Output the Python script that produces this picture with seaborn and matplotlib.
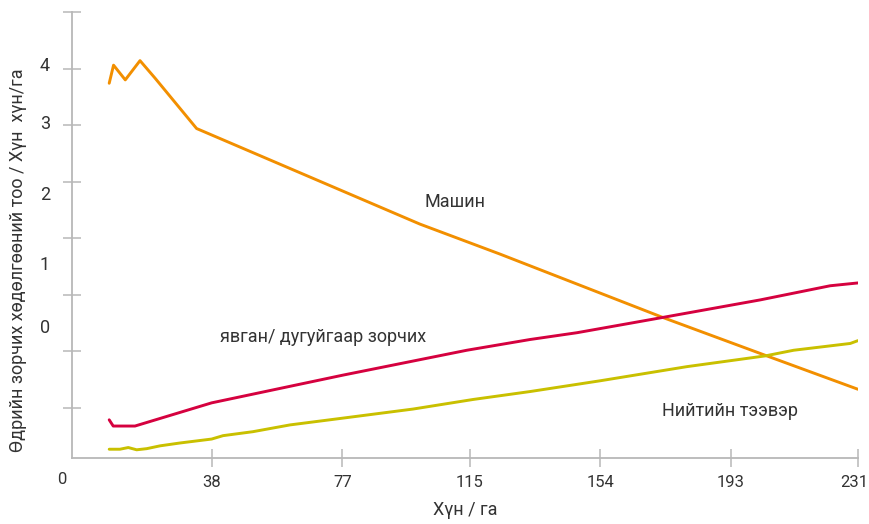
import pandas as pd
import matplotlib.pyplot as plt
import matplotlib.transforms as mtransforms
import seaborn as sns

# Машин
car_x = [7.4, 8.7, 12.2, 16.6, 21.1, 33.5, 100.2, 124.1, 172.7, 203.8, 231]
car_y = [6.74, 7.06, 6.80, 7.14, 6.83, 5.94, 4.25, 3.72, 2.60, 1.92, 1.33]

# явган/ дугуйгаар зорчих
walk_x = [7.4, 8.6, 15.1, 28.5, 38, 77.2, 114.2, 133.1, 147.1, 172.7, 201.8, 222.7, 231]
walk_y = [0.79, 0.68, 0.68, 0.92, 1.09, 1.58, 2.02, 2.21, 2.33, 2.60, 2.91, 3.16, 3.21]

# Нийтийн тээвэр
bus_x = [7.4, 10.6, 13.1, 15.6, 18.6, 22.6, 28.5, 38, 41.4, 50.3, 61.4, 77.2, 98.1,
         116.1, 133.1, 154, 179.9, 203.3, 211.8, 228.7, 231]
bus_y = [0.27, 0.27, 0.30, 0.26, 0.28, 0.33, 0.38, 0.45, 0.51, 0.58, 0.70, 0.82, 0.98,
         1.15, 1.29, 1.48, 1.73, 1.92, 2.02, 2.14, 2.19]

x_ticks = [38, 77, 115, 154, 193, 231]
y_ticks = [1, 2, 3, 4, 5, 6, 7, 8]
y_labels = ['4', '3', '2', '1', '0']
y_label_pos = [7.04, 6.02, 4.76, 3.53, 2.41]

series_names = ['Машин', 'явган/ дугуйгаар зорчих', 'Нийтийн тээвэр']
colors = ['#F28F00', '#D5013F', '#C9C000']

df = pd.concat([
    pd.DataFrame({'x': car_x, 'y': car_y, 'mode': series_names[0]}),
    pd.DataFrame({'x': walk_x, 'y': walk_y, 'mode': series_names[1]}),
    pd.DataFrame({'x': bus_x, 'y': bus_y, 'mode': series_names[2]}),
])

sns.set_style('white')
plt.rcParams['font.family'] = ['Roboto', 'DejaVu Sans']
text_color = '#333333'
grey = '#b8b8b8'

fig = plt.figure(figsize=(8.69, 5.24), dpi=100)
ax = fig.add_axes([0.0825, 0.1265, 0.9048, 0.8506])

sns.lineplot(data=df, x='x', y='y', hue='mode', palette=dict(zip(series_names, colors)),
             linewidth=2.1, legend=False, ax=ax, sort=False, estimator=None)

ax.set_xlim(-3.8, 231)
ax.set_ylim(0.12, 8)

sns.despine(ax=ax)
for side in ['left', 'bottom']:
    ax.spines[side].set_color(grey)
    ax.spines[side].set_linewidth(1.3)

ax.set_xticks(x_ticks)
ax.set_xticklabels([str(v) for v in x_ticks])
ax.set_yticks(y_ticks)
ax.set_yticklabels([])
ax.tick_params(axis='both', direction='inout', length=13, width=1.1, color=grey,
               left=True, bottom=True)
ax.tick_params(axis='x', labelsize=12, labelcolor=text_color, pad=6)

# keep the last x label inside the picture
last = ax.get_xticklabels()[-1]
last.set_transform(last.get_transform() + mtransforms.ScaledTranslation(-4 / 100, 0, fig.dpi_scale_trans))

ax.set_xlabel('Хүн / га', fontsize=13, color=text_color, labelpad=8)
ax.set_ylabel('')

# y labels sit off the tick marks in the original
for lab, pos in zip(y_labels, y_label_pos):
    ax.text(-0.034, pos, lab, transform=ax.get_yaxis_transform(), ha='center', va='center',
            fontsize=13, color=text_color)
fig.text(62 / 869, 1 - 479 / 524, '0', ha='center', va='center', fontsize=12, color=text_color)

fig.text(18 / 869, 1 - 260 / 524, 'Өдрийн зорчих хөдөлгөөний тоо / Хүн  хүн/га', rotation=90,
         ha='center', va='center', fontsize=13, color=text_color)

# series labels
ax.text(110.7, 4.64, series_names[0], ha='center', va='center', fontsize=13, color=text_color)
ax.text(40.5, 2.26, series_names[1], ha='left', va='center', fontsize=13, color=text_color)
ax.text(172.4, 0.95, series_names[2], ha='left', va='center', fontsize=13, color=text_color)

plt.savefig('out.png', dpi=100)
